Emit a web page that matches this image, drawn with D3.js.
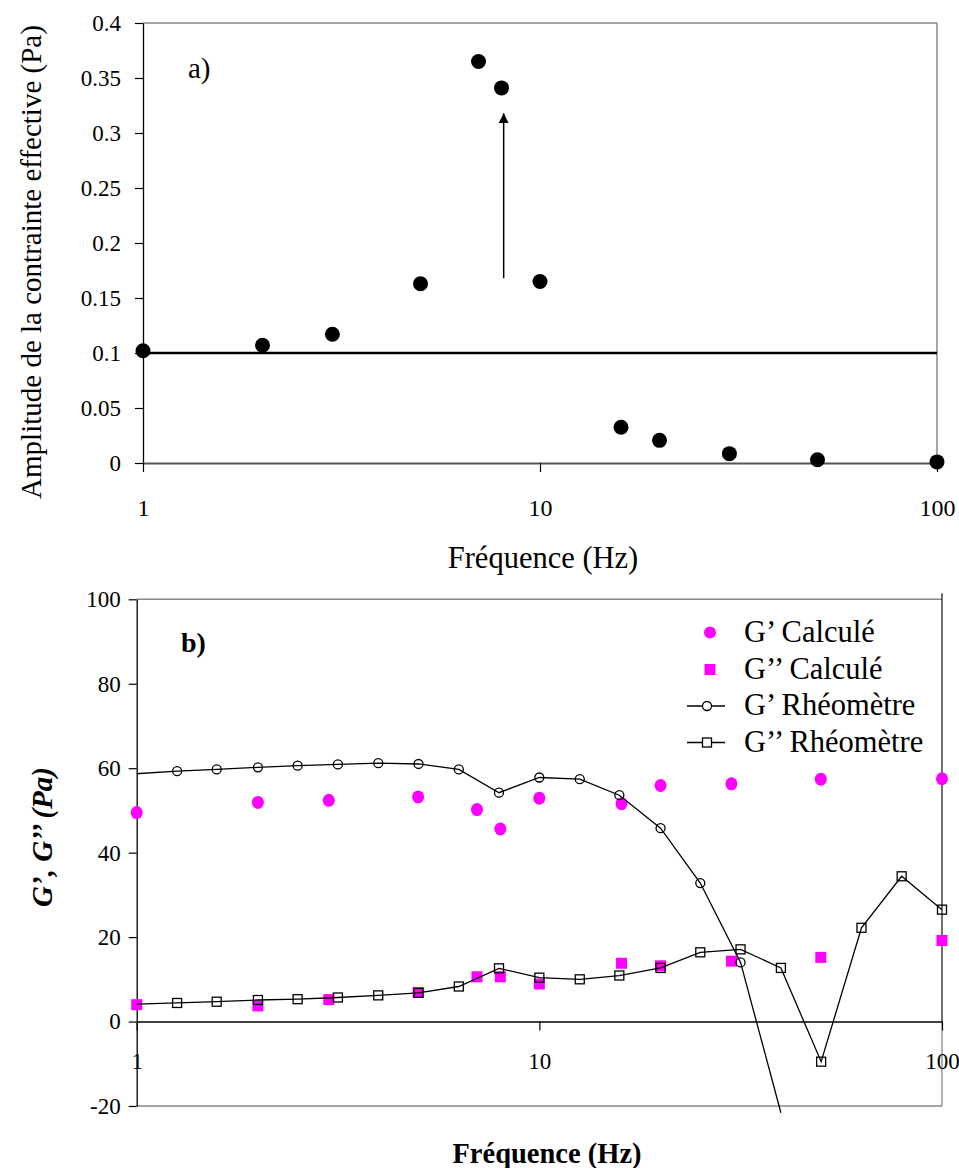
<!DOCTYPE html>
<html>
<head>
<meta charset="utf-8">
<script src="https://cdn.jsdelivr.net/npm/d3@7"></script>
<style>
  html, body { margin: 0; padding: 0; background: #fff; }
  svg { display: block; }
</style>
</head>
<body>
<script>
// ---------- Data: chart a) ----------
const freqA = [1, 2, 3, 5, 7, 8, 10, 16, 20, 30, 50, 100];
const amplitude = [0.102, 0.107, 0.117, 0.163, 0.365, 0.341, 0.165, 0.0325, 0.0206, 0.0085, 0.003, 0.001];
const refLevel = 0.1;
const arrowFreq = 8.1;
const arrowFrom = 0.168;
const arrowTo = 0.318;
const yTicksA = [0, 0.05, 0.1, 0.15, 0.2, 0.25, 0.3, 0.35, 0.4];
const yTickLabelsA = ["0", "0.05", "0.1", "0.15", "0.2", "0.25", "0.3", "0.35", "0.4"];
const xTicks = [1, 10, 100];
const xTickLabels = ["1", "10", "100"];

// ---------- Data: chart b) ----------
const freqCalc = [1, 2, 3, 5, 7, 8, 10, 16, 20, 30, 50, 100];
const gPrimeCalc = [49.5, 51.9, 52.4, 53.2, 50.2, 45.6, 52.9, 51.6, 55.9, 56.3, 57.4, 57.5];
const gSecondCalc = [4.0, 3.7, 5.2, 6.9, 10.6, 10.6, 8.9, 13.8, 13.2, 14.3, 15.2, 19.2];
const freqRheoG1 = [0.794, 1.26, 1.58, 2.0, 2.51, 3.16, 3.98, 5.01, 6.31, 7.94, 10, 12.6, 15.8, 20, 25.1, 31.6, 39.8];
const gPrimeRheo = [58.1, 59.3, 59.7, 60.2, 60.6, 60.9, 61.2, 61.0, 59.7, 54.2, 57.8, 57.4, 53.6, 45.8, 32.8, 14.0, -21.6];
const freqRheoG2 = [0.794, 1.26, 1.58, 2.0, 2.51, 3.16, 3.98, 5.01, 6.31, 7.94, 10, 12.6, 15.8, 20, 25.1, 31.6, 39.8, 50.1, 63.1, 79.4, 100];
const gSecondRheo = [3.9, 4.4, 4.7, 5.1, 5.3, 5.7, 6.2, 6.8, 8.3, 12.6, 10.4, 10.0, 10.9, 12.7, 16.4, 17.1, 12.7, -9.5, 22.2, 34.4, 26.5];
const yTicksB = [-20, 0, 20, 40, 60, 80, 100];
const legendLabels = ["G\u2019 Calculé", "G\u2019\u2019 Calculé", "G\u2019 Rhéomètre", "G\u2019\u2019 Rhéomètre"];

const MAGENTA = "#ff00ff";
const SERIF = '"Liberation Serif", "Times New Roman", Tinos, serif';
const font = (sel, size, weight, style) => sel
  .style("font-family", SERIF)
  .style("font-size", size + "px")
  .style("font-weight", weight || "normal")
  .style("font-style", style || "normal")
  .attr("fill", "#000");

const svg = d3.select("body").append("svg")
  .attr("width", 959).attr("height", 1168);
svg.append("rect").attr("width", 959).attr("height", 1168).attr("fill", "#fff");

const defs = svg.append("defs");
defs.append("marker")
  .attr("id", "arrowhead")
  .attr("viewBox", "0 0 10 10")
  .attr("refX", 10).attr("refY", 5)
  .attr("markerWidth", 10).attr("markerHeight", 11)
  .attr("markerUnits", "userSpaceOnUse")
  .attr("orient", "auto")
  .append("path").attr("d", "M0,0 L10,5 L0,10 Z").attr("fill", "#000");

// ================= Chart a) =================
const xA = d3.scaleLog().domain([1, 100]).range([143, 937]);
const yA = d3.scaleLinear().domain([0, 0.4]).range([463, 23]);
const gA = svg.append("g");

gA.append("line").attr("x1", xA(1)).attr("x2", xA(100)).attr("y1", yA(0.4)).attr("y2", yA(0.4))
  .attr("stroke", "#888").attr("stroke-width", 1.5);
gA.append("line").attr("x1", xA(100)).attr("x2", xA(100)).attr("y1", yA(0.4)).attr("y2", yA(0))
  .attr("stroke", "#888").attr("stroke-width", 1.5);

const yAxisA = gA.append("g").attr("transform", `translate(${xA(1)},0)`)
  .call(d3.axisLeft(yA).tickValues(yTicksA).tickSize(8).tickSizeOuter(0).tickPadding(14)
    .tickFormat((d, i) => yTickLabelsA[i]));
yAxisA.select(".domain").attr("stroke", "#000").attr("stroke-width", 1.3);
yAxisA.selectAll(".tick line").attr("stroke", "#000").attr("stroke-width", 1.2);
font(yAxisA.selectAll("text"), 23);

const xAxisA = gA.append("g").attr("transform", `translate(0,${yA(0)})`)
  .call(d3.axisBottom(xA).tickValues(xTicks).tickSize(9).tickSizeOuter(0)
    .tickFormat((d, i) => xTickLabels[i]));
xAxisA.select(".domain").attr("stroke", "#555").attr("stroke-width", 2.2);
xAxisA.selectAll(".tick line").attr("stroke", "#000").attr("stroke-width", 1.2);
font(xAxisA.selectAll("text").attr("dy", null).attr("y", 53), 24);

gA.append("line")
  .attr("x1", xA(1)).attr("x2", xA(100))
  .attr("y1", yA(refLevel)).attr("y2", yA(refLevel))
  .attr("stroke", "#000").attr("stroke-width", 2.6);

gA.append("line")
  .attr("x1", xA(arrowFreq)).attr("x2", xA(arrowFreq))
  .attr("y1", yA(arrowFrom)).attr("y2", yA(arrowTo))
  .attr("stroke", "#000").attr("stroke-width", 1.5)
  .attr("marker-end", "url(#arrowhead)");

gA.append("g").selectAll("circle")
  .data(freqA.map((f, i) => ({ f, v: amplitude[i] })))
  .join("circle")
  .attr("cx", d => xA(d.f)).attr("cy", d => yA(d.v))
  .attr("r", 7.5).attr("fill", "#000");

font(gA.append("text").attr("x", 188).attr("y", 78).text("a)"), 29);

font(gA.append("text").attr("x", 543).attr("y", 568).attr("text-anchor", "middle")
  .text("Fréquence (Hz)"), 30.5);

font(gA.append("text").attr("transform", "translate(41,262) rotate(-90)")
  .attr("text-anchor", "middle")
  .text("Amplitude de la contrainte effective (Pa)"), 29);

// ================= Chart b) =================
const xB = d3.scaleLog().domain([1, 100]).range([136.7, 942]);
const yB = d3.scaleLinear().domain([-20, 100]).range([1106, 599.3]);
const gB = svg.append("g");

defs.append("clipPath").attr("id", "clipB")
  .append("rect").attr("x", xB(1)).attr("y", yB(100) - 10)
  .attr("width", xB(100) - xB(1) + 10).attr("height", yB(-20) - yB(100) + 20);

gB.append("line").attr("x1", xB(1)).attr("x2", xB(100)).attr("y1", yB(100)).attr("y2", yB(100))
  .attr("stroke", "#888").attr("stroke-width", 1.5);
gB.append("line").attr("x1", xB(1)).attr("x2", xB(100)).attr("y1", yB(-20)).attr("y2", yB(-20))
  .attr("stroke", "#888").attr("stroke-width", 1.5);
gB.append("line").attr("x1", xB(100)).attr("x2", xB(100)).attr("y1", yB(100) - 6).attr("y2", yB(0))
  .attr("stroke", "#222").attr("stroke-width", 1.3);
gB.append("line").attr("x1", xB(100)).attr("x2", xB(100)).attr("y1", yB(0)).attr("y2", yB(-20))
  .attr("stroke", "#888").attr("stroke-width", 1.3);

const yAxisB = gB.append("g").attr("transform", `translate(${xB(1)},0)`)
  .call(d3.axisLeft(yB).tickValues(yTicksB).tickSize(8).tickSizeOuter(0).tickPadding(8)
    .tickFormat(d3.format("d")));
yAxisB.select(".domain").attr("stroke", "#000").attr("stroke-width", 1.3);
yAxisB.selectAll(".tick line").attr("stroke", "#000").attr("stroke-width", 1.2);
font(yAxisB.selectAll("text").text(d => d < 0 ? "-" + Math.abs(d) : String(d)), 23);

const xAxisB = gB.append("g").attr("transform", `translate(0,${yB(0)})`)
  .call(d3.axisBottom(xB).tickValues(xTicks).tickSize(9).tickSizeOuter(0)
    .tickFormat((d, i) => xTickLabels[i]));
xAxisB.select(".domain").attr("stroke", "#000").attr("stroke-width", 1.5);
xAxisB.selectAll(".tick line").attr("stroke", "#000").attr("stroke-width", 1.2);
font(xAxisB.selectAll("text").attr("dy", null).attr("y", 47), 23);

const calcG1 = freqCalc.map((f, i) => ({ f, v: gPrimeCalc[i] }));
const calcG2 = freqCalc.map((f, i) => ({ f, v: gSecondCalc[i] }));
gB.append("g").selectAll("ellipse").data(calcG1).join("ellipse")
  .attr("cx", d => xB(d.f)).attr("cy", d => yB(d.v))
  .attr("rx", 6).attr("ry", 6.5).attr("fill", MAGENTA);
gB.append("g").selectAll("rect").data(calcG2).join("rect")
  .attr("x", d => xB(d.f) - 5.5).attr("y", d => yB(d.v) - 5.5)
  .attr("width", 11).attr("height", 11).attr("fill", MAGENTA);

const rheoG1 = freqRheoG1.map((f, i) => ({ f, v: gPrimeRheo[i] }));
const rheoG2 = freqRheoG2.map((f, i) => ({ f, v: gSecondRheo[i] }));
const line = d3.line().x(d => xB(d.f)).y(d => yB(d.v));
const inside = d => d.f >= 1 && d.f <= 100 && d.v >= -20 && d.v <= 100;

const clipG = gB.append("g").attr("clip-path", "url(#clipB)");
clipG.append("path").datum(rheoG1).attr("d", line)
  .attr("fill", "none").attr("stroke", "#000").attr("stroke-width", 1.3);
clipG.append("path").datum(rheoG2).attr("d", line)
  .attr("fill", "none").attr("stroke", "#000").attr("stroke-width", 1.3);

gB.append("g").selectAll("circle").data(rheoG1.filter(inside)).join("circle")
  .attr("cx", d => xB(d.f)).attr("cy", d => yB(d.v))
  .attr("r", 4.5).attr("fill", "none").attr("stroke", "#000").attr("stroke-width", 1.3);
gB.append("g").selectAll("rect").data(rheoG2.filter(inside)).join("rect")
  .attr("x", d => xB(d.f) - 4.5).attr("y", d => yB(d.v) - 4.5)
  .attr("width", 9).attr("height", 9)
  .attr("fill", "none").attr("stroke", "#000").attr("stroke-width", 1.3);

// legend
const lg = gB.append("g");
const legendBase = [641.5, 678.5, 715, 751.5];
legendLabels.forEach((lab, i) => {
  font(lg.append("text").attr("x", 744).attr("y", legendBase[i]).text(lab), 30.5);
});
const my = legendBase.map(b => b - 9);
lg.append("circle").attr("cx", 710).attr("cy", my[0]).attr("r", 6).attr("fill", MAGENTA);
lg.append("rect").attr("x", 704.5).attr("y", my[1] - 5.5).attr("width", 11).attr("height", 11).attr("fill", MAGENTA);
lg.append("line").attr("x1", 687).attr("x2", 725).attr("y1", my[2]).attr("y2", my[2])
  .attr("stroke", "#000").attr("stroke-width", 1.3);
lg.append("circle").attr("cx", 707).attr("cy", my[2]).attr("r", 4.5)
  .attr("fill", "#fff").attr("stroke", "#000").attr("stroke-width", 1.3);
lg.append("line").attr("x1", 687).attr("x2", 725).attr("y1", my[3]).attr("y2", my[3])
  .attr("stroke", "#000").attr("stroke-width", 1.3);
lg.append("rect").attr("x", 702.5).attr("y", my[3] - 4.5).attr("width", 9).attr("height", 9)
  .attr("fill", "#fff").attr("stroke", "#000").attr("stroke-width", 1.3);

font(gB.append("text").attr("x", 181).attr("y", 652).text("b)"), 28, "bold");

font(gB.append("text").attr("x", 547).attr("y", 1163).attr("text-anchor", "middle")
  .text("Fréquence (Hz)"), 28.5, "bold");

font(gB.append("text").attr("transform", "translate(52,837) rotate(-90)")
  .attr("text-anchor", "middle")
  .text("G\u2019, G\u2019\u2019 (Pa)"), 29, "bold", "italic");
</script>
</body>
</html>
